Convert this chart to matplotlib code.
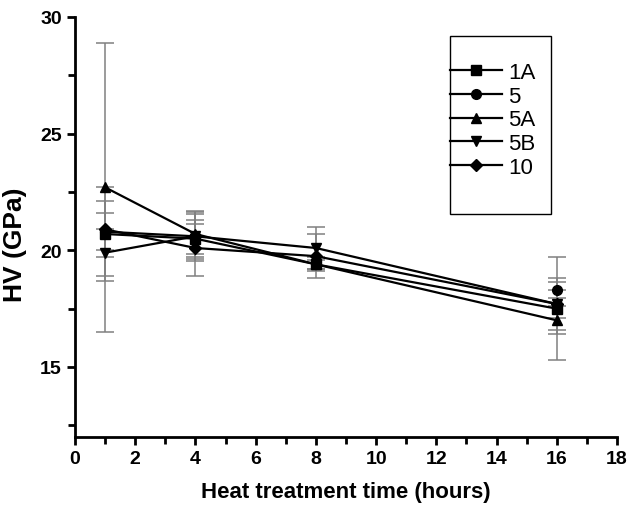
import numpy as np
import matplotlib
matplotlib.use("Agg")
import matplotlib.pyplot as plt
from matplotlib.patches import Rectangle
from matplotlib.ticker import MultipleLocator

plt.rcParams["font.family"] = ["Liberation Sans", "DejaVu Sans"]

# heat treatment time (hours)
hours = [1, 4, 8, 16]

# hardness HV (GPa) and errors for each sample
hv_1a = [20.7, 20.5, 19.4, 17.5]
err_1a = [2.0, 0.65, 0.3, 2.2]
hv_5 = [20.8, 20.6, np.nan, 18.3]
err_5 = [0.8, 1.05, 0.0, 0.35]
hv_5a = [22.7, 20.7, 19.4, 17.0]
err_5a = [6.2, 1.0, 0.2, 0.6]
hv_5b = [19.9, 20.6, 20.1, 17.7]
err_5b = [1.0, 0.95, 0.9, 1.1]
hv_10 = [20.9, 20.1, 19.75, 17.7]
err_10 = [1.2, 1.2, 0.95, 0.6]

labels = ["1A", "5", "5A", "5B", "10"]
markers = ["s", "o", "^", "v", "D"]
series = [hv_1a, hv_5, hv_5a, hv_5b, hv_10]
errors = [err_1a, err_5, err_5a, err_5b, err_10]

fig = plt.figure(figsize=(6.31, 5.06), dpi=100)
ax = fig.add_axes([75 / 631, 68 / 506, 542 / 631, 420 / 506])

handles = []
for y, e, m, lab in zip(series, errors, markers, labels):
    ax.errorbar(hours, y, yerr=e, fmt="none", ecolor="#808080",
                elinewidth=1.1, capsize=6.5, capthick=1.1, zorder=2)
    ms = 6 if m == "D" else 7
    (h,) = ax.plot(hours, y, color="black", lw=1.6, marker=m, ms=ms,
                   markerfacecolor="black", markeredgecolor="black",
                   label=lab, zorder=3)
    handles.append(h)

ax.set_xlim(0, 18)
ax.set_ylim(12, 30)
ax.xaxis.set_major_locator(MultipleLocator(2))
ax.xaxis.set_minor_locator(MultipleLocator(1))
ax.yaxis.set_minor_locator(MultipleLocator(2.5))
ax.set_yticks([15, 20, 25, 30])

for s in ["top", "right"]:
    ax.spines[s].set_visible(False)
for s in ["left", "bottom"]:
    ax.spines[s].set_linewidth(2)

ax.tick_params(which="both", direction="out", width=2, length=6,
               labelsize=14)
ax.tick_params(which="minor", length=5)
for t in ax.get_xticklabels() + ax.get_yticklabels():
    t.set_fontweight("bold")

ax.set_xlabel("Heat treatment time (hours)", fontsize=16, fontweight="bold",
              labelpad=10)
ax.set_ylabel("HV (GPa)", fontsize=19, fontweight="bold")
ax.yaxis.set_label_coords(-0.088, 0.46)

leg = fig.legend(handles=handles, labels=labels, loc="upper left",
                 bbox_to_anchor=(450 / 631, 1 - 63 / 506), frameon=False,
                 borderpad=0, handlelength=2.35, handletextpad=0.27,
                 labelspacing=0.12, fontsize=16, borderaxespad=0)

# legend frame
fig.patches.append(Rectangle((450 / 631, 1 - 215 / 506), 101 / 631,
                             178 / 506, transform=fig.transFigure,
                             fill=False, edgecolor="black", lw=1))

fig.savefig("out.png", dpi=100)
